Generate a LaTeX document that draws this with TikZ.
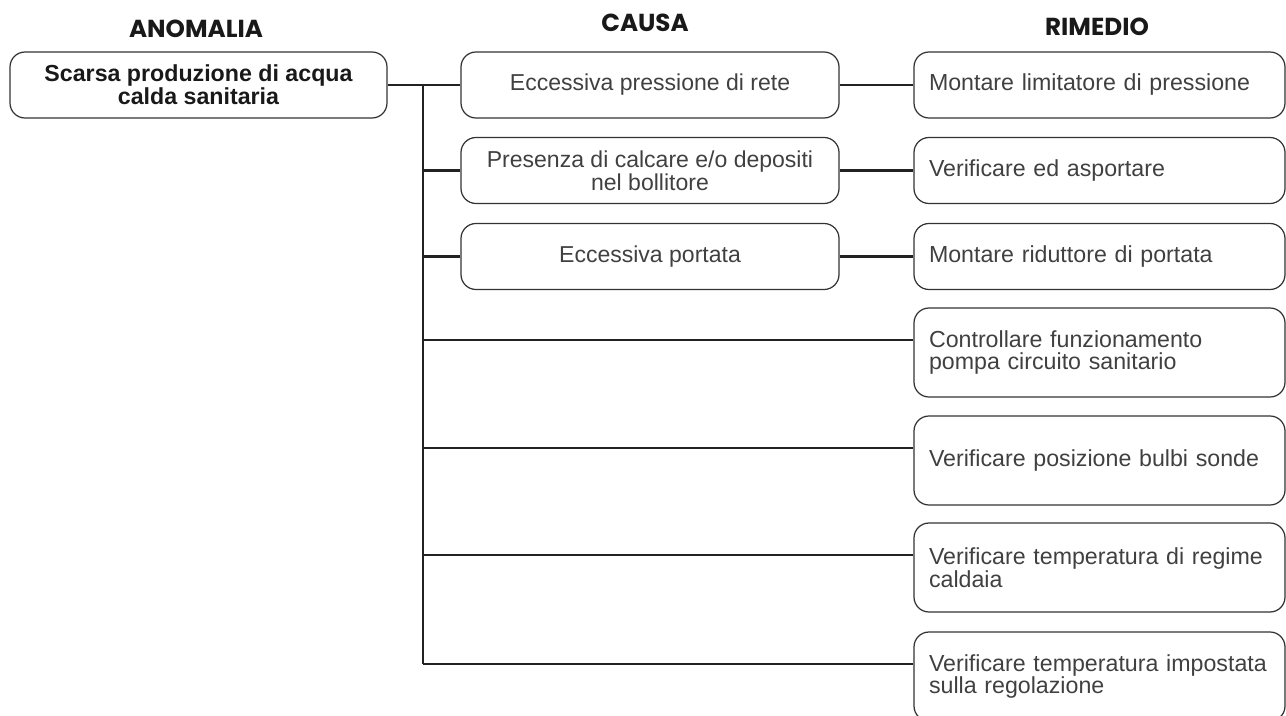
\documentclass[tikz,border=0pt]{standalone}
\usepackage{fontspec}
\setmainfont{Liberation Sans}
\newfontfamily\headfont{Poppins}
\usepackage{xcolor}
\usepackage{tikz}
\usetikzlibrary{positioning}
\definecolor{boxgray}{HTML}{333333}
\definecolor{txtgray}{HTML}{404040}
\definecolor{linedark}{HTML}{222222}

\begin{document}
\begin{tikzpicture}[
        head/.style={font=\headfont\bfseries\fontsize{14}{14}\selectfont, text=black!90, inner sep=0pt},
        anom/.style={draw=boxgray, line width=0.7pt, rounded corners=0.3cm, minimum width=7.54cm, minimum height=1.32cm, align=center, font=\bfseries\fontsize{13.2}{13}\selectfont, text=black!90},
        cause/.style={draw=boxgray, line width=0.7pt, rounded corners=0.3cm, minimum width=7.56cm, minimum height=1.32cm, align=center, font=\fontsize{13.1}{13}\selectfont, text=txtgray},
        remedy/.style={draw=boxgray, line width=0.7pt, rounded corners=0.3cm, text width=6.82cm, inner xsep=0.30cm, align=left, font=\fontsize{13.2}{13}\selectfont, text=txtgray},
        remshort/.style={remedy, minimum height=1.32cm},
        remtall/.style={remedy, minimum height=1.78cm},
        link/.style={draw=linedark, line width=1.4pt},
    ]
        \useasboundingbox (0,0) rectangle (25.72,-14.32);

        % Column headers
        \node[head] (hAnom)  at (3.92,-0.58)  {ANOMALIA};
        \node[head] (hCausa) at (12.90,-0.45) {CAUSA};
        \node[head] (hRim)   at (21.94,-0.53) {RIMEDIO};

        % Anomaly (left column)
        \node[anom] (anom) at (3.97,-1.70) {Scarsa produzione di acqua\\calda sanitaria};

        % Causes (middle column)
        \node[cause] (cause1) at (13.00,-1.70) {Eccessiva pressione di rete};
        \node[cause] (cause2) at (13.00,-3.41) {Presenza di calcare e/o depositi\\nel bollitore};
        \node[cause] (cause3) at (13.00,-5.13) {Eccessiva portata};

        % Remedies (right column)
        \node[remshort] (rem1) at (21.99,-1.70)  {Montare limitatore di pressione};
        \node[remshort] (rem2) at (21.99,-3.41)  {Verificare ed asportare};
        \node[remshort] (rem3) at (21.99,-5.13)  {Montare riduttore di portata};
        \node[remtall]  (rem4) at (21.99,-7.05)  {Controllare funzionamento\\pompa circuito sanitario};
        \node[remtall]  (rem5) at (21.99,-9.21)  {Verificare posizione bulbi sonde};
        \node[remtall]  (rem6) at (21.99,-11.35) {Verificare temperatura di regime\\caldaia};
        \node[remtall]  (rem7) at (21.99,-13.53) {Verificare temperatura impostata\\sulla regolazione};

        % Taps on the tall remedy boxes sit near their top
        \coordinate (tap4) at ([yshift=-0.65cm]rem4.north west);
        \coordinate (tap5) at ([yshift=-0.65cm]rem5.north west);
        \coordinate (tap6) at ([yshift=-0.65cm]rem6.north west);
        \coordinate (tap7) at ([yshift=-0.65cm]rem7.north west);

        % Trunk from the anomaly down to the last remedy
        \coordinate (trunkTop) at (8.46,-1.70);
        \draw[link] (anom.east) -- (cause1.west);
        \draw[link] (trunkTop) -- (trunkTop |- tap7);

        % Branches: trunk -> causes
        \draw[link] (trunkTop |- cause2.west) -- (cause2.west);
        \draw[link] (trunkTop |- cause3.west) -- (cause3.west);

        % Branches: trunk -> remedies without a cause
        \draw[link] (trunkTop |- tap4) -- (tap4);
        \draw[link] (trunkTop |- tap5) -- (tap5);
        \draw[link] (trunkTop |- tap6) -- (tap6);
        \draw[link] (trunkTop |- tap7) -- (tap7);

        % Causes -> remedies
        \draw[link] (cause1.east) -- (rem1.west);
        \draw[link] (cause2.east) -- (rem2.west);
        \draw[link] (cause3.east) -- (rem3.west);
    \end{tikzpicture}
\end{document}
